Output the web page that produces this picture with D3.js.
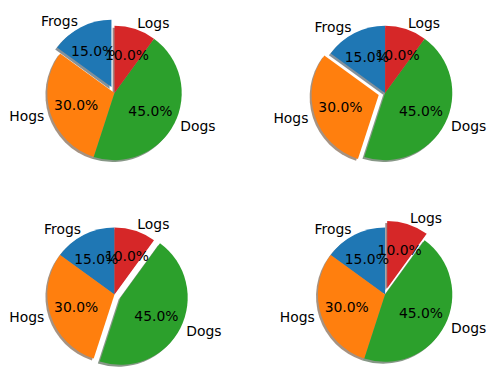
<!DOCTYPE html>
<html>
<head>
<meta charset="utf-8">
<script src="https://cdn.jsdelivr.net/npm/d3@7"></script>
<style>
  html, body { margin: 0; padding: 0; background: #fff; }
  svg { display: block; }
  text { font-family: "DejaVu Sans", sans-serif; font-size: 13.9px; fill: #000; }
</style>
</head>
<body>
<svg id="chart" width="496" height="389"></svg>
<script>
// datos del gráfico
const labels = ["Frogs", "Hogs", "Dogs", "Logs"];
const sizes = [15, 30, 45, 10];
const explodes = [
  [0.1, 0, 0, 0],
  [0, 0.1, 0, 0],
  [0, 0, 0.1, 0],
  [0, 0, 0, 0.1]
];
const colors = ["#1f77b4", "#ff7f0e", "#2ca02c", "#d62728"];

const W = 496, H = 389;
const svg = d3.select('#chart');

// centros de cada subplot (2x2)
const colX = [114.5, 385.1];
const rowY = [93, 294.6];

// unidades de datos -> px (ejes de -1.25 a 1.25, aspecto igual)
const sx = d3.scaleLinear().domain([-1.25, 1.25]).range([-84, 84]);
const R = sx(1) - sx(0);
const shadowOff = 0.02 * 100 / 72 * R; // desplazamiento de la sombra

const pie = d3.pie().sort(null).value(d => d)
  .startAngle(0).endAngle(-2 * Math.PI); // antihorario desde arriba
const arc = d3.arc().innerRadius(0).outerRadius(R);
const fmt = d3.format('.1f');
const total = d3.sum(sizes);

explodes.forEach((expl, i) => {
  const g = svg.append('g')
    .attr('transform', `translate(${colX[i % 2]},${rowY[Math.floor(i / 2)]})`);

  const arcs = pie(sizes).map((a, j) => {
    const m = (a.startAngle + a.endAngle) / 2;
    const dx = Math.sin(m), dy = -Math.cos(m);
    return { a, j, dx, dy, ox: expl[j] * R * dx, oy: expl[j] * R * dy };
  });

  // sombras (debajo de todas las cuñas)
  g.selectAll('path.shadow').data(arcs).join('path')
    .attr('class', 'shadow')
    .attr('d', d => arc(d.a))
    .attr('transform', d => `translate(${d.ox - shadowOff},${d.oy + shadowOff})`)
    .attr('fill', d => {
      const c = d3.rgb(colors[d.j]);
      return d3.rgb(c.r * 0.3, c.g * 0.3, c.b * 0.3);
    })
    .attr('fill-opacity', 0.5);

  // cuñas
  g.selectAll('path.wedge').data(arcs).join('path')
    .attr('class', 'wedge')
    .attr('d', d => arc(d.a))
    .attr('transform', d => `translate(${d.ox},${d.oy})`)
    .attr('fill', d => colors[d.j]);

  // etiquetas
  g.selectAll('text.lbl').data(arcs).join('text')
    .attr('class', 'lbl')
    .attr('x', d => d.ox + 1.1 * R * d.dx)
    .attr('y', d => d.oy + 1.1 * R * d.dy)
    .attr('dy', '0.35em')
    .attr('text-anchor', d => (d.ox + 1.1 * R * d.dx) > 0 ? 'start' : 'end')
    .text(d => labels[d.j]);

  // porcentajes
  g.selectAll('text.pct').data(arcs).join('text')
    .attr('class', 'pct')
    .attr('x', d => d.ox + 0.6 * R * d.dx)
    .attr('y', d => d.oy + 0.6 * R * d.dy)
    .attr('dy', '0.35em')
    .attr('text-anchor', 'middle')
    .text(d => fmt(sizes[d.j] / total * 100) + '%');
});
</script>
</body>
</html>
